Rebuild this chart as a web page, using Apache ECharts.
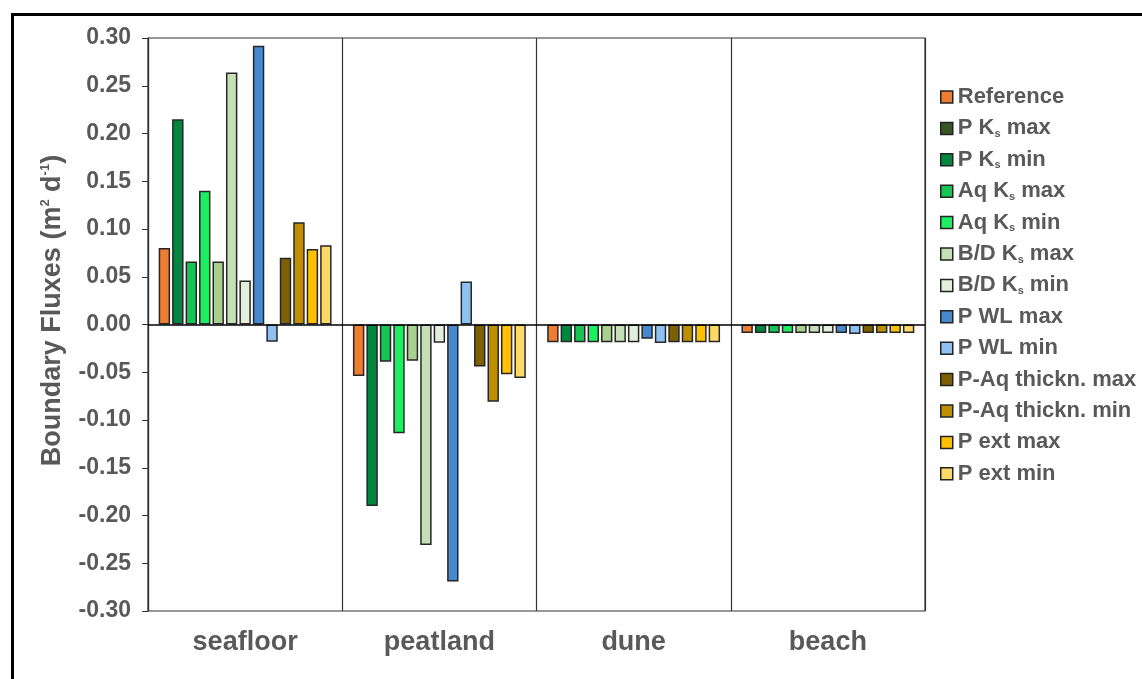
<!DOCTYPE html>
<html><head><meta charset="utf-8">
<script src="https://cdn.jsdelivr.net/npm/echarts@6/dist/echarts.min.js"></script>
<style>html,body{margin:0;padding:0;background:#fff}#c{width:1142px;height:679px}</style>
</head><body><div id="c"></div>
<script>
const categories = ['seafloor', 'peatland', 'dune', 'beach'];
const seriesNames = ['Reference','P Ks max','P Ks min','Aq Ks max','Aq Ks min','B/D Ks max','B/D Ks min','P WL max','P WL min','P-Aq thickn. max','P-Aq thickn. min','P ext max','P ext min'];
const reference   = [0.080, -0.054, -0.0185, -0.009];
const pKsMax      = [0.215, -0.190, -0.0185, -0.009];
const pKsMin      = [0.066, -0.039, -0.0185, -0.009];
const aqKsMax     = [0.140, -0.114, -0.0185, -0.009];
const aqKsMin     = [0.066, -0.038, -0.0185, -0.009];
const bdKsMax     = [0.264, -0.231, -0.0185, -0.009];
const bdKsMin     = [0.046, -0.019, -0.0185, -0.009];
const pWlMax      = [0.292, -0.269, -0.015, -0.009];
const pWlMin      = [-0.018, 0.045, -0.0195, -0.010];
const pAqMax      = [0.070, -0.044, -0.0185, -0.009];
const pAqMin      = [0.107, -0.081, -0.0185, -0.009];
const pExtMax     = [0.079, -0.052, -0.0185, -0.009];
const pExtMin     = [0.083, -0.056, -0.0185, -0.009];
const seriesValues = [reference, pKsMax, pKsMin, aqKsMax, aqKsMin, bdKsMax, bdKsMin, pWlMax, pWlMin, pAqMax, pAqMin, pExtMax, pExtMin];
const barColors = ['#ED7D31','#00873F','#16C553','#1CF062','#A9D18E','#C5E0B4','#E2EFDA','#4789CF','#8EC0F2','#7F6000','#BF8F00','#FFC000','#FFD966'];
const legendColors = ['#ED7D31','#375623','#00873F','#16C553','#1CF062','#C5E0B4','#E2EFDA','#4789CF','#8EC0F2','#7F6000','#BF8F00','#FFC000','#FFD966'];
const yTicks = { min: -0.30, max: 0.30, interval: 0.05 };

const grey = '#595959';
const font = 'Liberation Sans, Arial, sans-serif';

const series = seriesNames.map((n, i) => ({
  name: n,
  type: 'bar',
  data: seriesValues[i],
  barGap: '18%',
  barCategoryGap: '11%',
  itemStyle: { color: barColors[i], borderColor: '#262626', borderWidth: 1.5 },
  z: 3
}));
series[0].markLine = {
  silent: true, symbol: 'none', label: { show: false },
  lineStyle: { color: '#000', width: 1.5, type: 'solid' },
  data: [{ yAxis: 0 }], z: 5
};

function legendFmt(name) {
  const m = name.match(/^(.*) Ks (.*)$/);
  if (m) return '{t|' + m[1] + ' K}{s|s}{t| ' + m[2] + '}';
  return '{t|' + name + '}';
}

const chart = echarts.init(document.getElementById('c'), null, { renderer: 'canvas' });
chart.setOption({
  animation: false,
  backgroundColor: '#fff',
  textStyle: { fontFamily: font },
  graphic: [{
    type: 'rect', left: 10, top: 12, silent: true,
    shape: { width: 1150, height: 700 },
    style: { fill: 'none', stroke: '#000', lineWidth: 3 }
  }],
  grid: { left: 148, right: 217, top: 38, bottom: 68, show: true, borderColor: '#333', borderWidth: 1.2, backgroundColor: 'transparent' },
  legend: {
    orient: 'vertical', left: 940, top: 86, padding: 0, itemWidth: 12, itemHeight: 12, itemGap: 9.4,
    icon: 'rect',
    itemStyle: { borderColor: '#222', borderWidth: 1.5 },
    data: seriesNames.map((n, i) => ({ name: n, itemStyle: { color: legendColors[i], borderColor: '#222', borderWidth: 1.5 } })),
    formatter: legendFmt,
    textStyle: {
      fontFamily: font, fontWeight: 'bold', fontSize: 22, color: grey,
      rich: {
        t: { fontFamily: font, fontWeight: 'bold', fontSize: 22, color: grey, lineHeight: 22 },
        s: { fontFamily: font, fontWeight: 'bold', fontSize: 11, color: grey, lineHeight: 11, verticalAlign: 'bottom' }
      }
    }
  },
  xAxis: {
    type: 'category', data: categories,
    axisLine: { show: false, onZero: false },
    axisTick: { show: false },
    splitLine: { show: true, lineStyle: { color: '#333', width: 1.2 } },
    axisLabel: { margin: 18, fontFamily: font, fontWeight: 'bold', fontSize: 27, color: grey }
  },
  yAxis: {
    type: 'value', min: yTicks.min, max: yTicks.max, interval: yTicks.interval,
    axisLine: { show: true, lineStyle: { color: '#333', width: 1.2 } },
    axisTick: { show: true, inside: false, length: 6, lineStyle: { color: '#333' } },
    splitLine: { show: false },
    axisLabel: { margin: 17, fontFamily: font, fontWeight: 'bold', fontSize: 23, color: grey,
      formatter: v => (Math.abs(v) < 1e-9 ? 0 : v).toFixed(2) },
    name: '{a|Boundary Fluxes (m}{p|2}{a| d}{p|-1}{a|)}',
    nameLocation: 'middle', nameGap: 81, nameRotate: 90,
    nameTextStyle: {
      padding: [0, 0, 0, 28],
      rich: {
        a: { fontFamily: font, fontWeight: 'bold', fontSize: 27, color: grey, lineHeight: 28 },
        p: { fontFamily: font, fontWeight: 'bold', fontSize: 13, color: grey, lineHeight: 13, verticalAlign: 'top' }
      }
    }
  },
  series: series
});
</script></body></html>
